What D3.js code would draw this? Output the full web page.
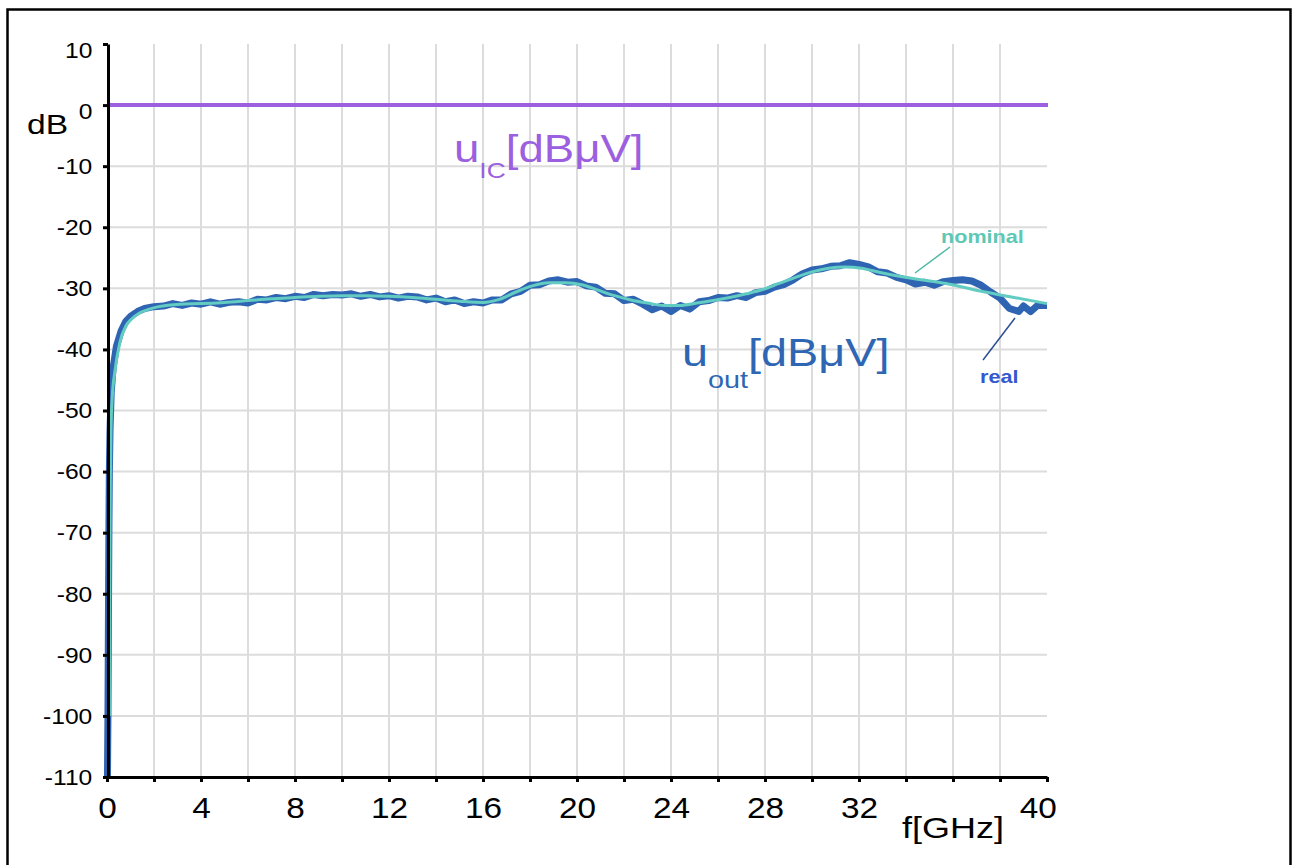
<!DOCTYPE html>
<html>
<head>
<meta charset="utf-8">
<script src="https://cdn.jsdelivr.net/npm/d3@7"></script>
<style>
  body { margin: 0; background: #fff; }
  text { font-family: Arial, "Liberation Sans", sans-serif; }
</style>
</head>
<body>
<div class="chart"></div>
<script>
// values
const yTicks = [10, 0, -10, -20, -30, -40, -50, -60, -70, -80, -90, -100, -110];
const xTicks = [0, 2, 4, 6, 8, 10, 12, 14, 16, 18, 20, 22, 24, 26, 28, 30, 32, 34, 36, 38, 40];
const xLabels = [0, 4, 8, 12, 16, 20, 24, 28, 32, 40];
const icLevel = 0;

const nominalFreq = [0.1, 0.12, 0.14, 0.17, 0.22, 0.34, 0.55, 0.8, 1.0, 1.4, 1.8, 2.2, 3.1,
  4, 5, 6, 7, 8, 9, 10, 11, 12, 13, 14, 15, 16, 16.7, 17.4, 18.1, 18.8, 19.5, 20.2, 20.9,
  21.6, 22.3, 23.0, 23.7, 24.4, 25.1, 25.8, 26.5, 27.2, 27.9, 28.6, 29.3, 30.0, 30.7, 31.4,
  32.1, 32.9, 34.3, 35.7, 37.1, 38.6, 40];
const nominalDb = [-100, -75, -62, -53, -48, -43.5, -38.8, -36.2, -35.2, -34.0, -33.4, -33.0, -32.6,
  -32.5, -32.3, -32.0, -31.7, -31.5, -31.3, -31.2, -31.2, -31.3, -31.5, -31.8, -32.1, -32.3, -31.8, -30.6, -29.6,
  -29.1, -29.1, -29.4, -30.3, -31.2, -31.9, -32.4, -32.8, -32.8, -32.4, -32.0, -31.5, -30.9, -30.2,
  -29.2, -28.2, -27.3, -26.7, -26.5, -26.7, -27.4, -28.4, -29.2, -30.4, -31.5, -32.5];

const realFreq = [0.02, 0.04, 0.06, 0.08, 0.1, 0.13, 0.18, 0.26, 0.4, 0.6, 0.8, 1.0, 1.3, 1.6, 2.0,
  2.4, 2.8, 3.2, 3.6, 4.0, 4.4, 4.8, 5.2, 5.6, 6.0, 6.4, 6.8, 7.2, 7.6, 8.0, 8.4, 8.8, 9.2, 9.6,
  10.0, 10.4, 10.8, 11.2, 11.6, 12.0, 12.4, 12.8, 13.2, 13.6, 14.0, 14.4, 14.8, 15.2, 15.6, 16.0,
  16.4, 16.8, 17.2, 17.6, 18.0, 18.4, 18.8, 19.2, 19.6, 20.0, 20.4, 20.8, 21.2, 21.6, 22.0, 22.4,
  22.8, 23.2, 23.6, 24.0, 24.4, 24.8, 25.2, 25.6, 26.0, 26.4, 26.8, 27.2, 27.6, 28.0, 28.4, 28.8,
  29.2, 29.6, 30.0, 30.4, 30.8, 31.2, 31.6, 32.0, 32.4, 32.8, 33.2, 33.6, 34.0, 34.4, 34.8, 35.2,
  35.6, 36.0, 36.4, 36.8, 37.2, 37.6, 38.0, 38.4, 38.8, 39.0, 39.3, 39.6, 40.0];
const realDb = [-110, -100, -85, -70, -60, -53, -47, -43, -39.5, -37, -35.4, -34.6, -33.8, -33.3, -33.0,
  -32.9, -32.5, -32.8, -32.4, -32.6, -32.2, -32.6, -32.3, -32.2, -32.4, -31.8, -31.9, -31.5, -31.7, -31.3,
  -31.5, -31.0, -31.2, -31.0, -31.1, -30.9, -31.3, -31.0, -31.4, -31.2, -31.6, -31.3, -31.4, -31.9, -31.6,
  -32.2, -31.9, -32.5, -32.2, -32.4, -31.9, -31.9, -30.9, -30.5, -29.5, -29.4, -28.8, -28.6, -29.0, -28.9,
  -29.6, -29.8, -30.8, -30.9, -32.0, -31.8, -32.6, -33.5, -32.9, -33.8, -32.8, -33.4, -32.2, -32.0, -31.5,
  -31.6, -31.2, -31.5, -30.7, -30.5, -29.8, -29.4, -28.6, -27.6, -27.0, -26.8, -26.4, -26.3, -25.8, -26.1,
  -26.5, -27.3, -27.5, -28.2, -28.6, -29.3, -29.0, -29.5, -28.9, -28.7, -28.6, -28.8, -29.5, -30.6, -31.6,
  -33.3, -33.8, -32.9, -33.8, -32.8, -32.8];

function drawChart(container) {
  const width = 1295, height = 865;
  const plot = {left: 107, right: 1047, top: 44, bottom: 777};
  const stretch = "scale(1.2,1)";   // the lettering in the picture is a bit wide

  const svg = d3.select(container)
    .append("svg")
    .attr("width", width)
    .attr("height", height);

  // frame
  svg.append("rect")
    .attr("x", 7.5).attr("y", 9.5)
    .attr("width", 1283).attr("height", 880)
    .attr("fill", "none")
    .attr("stroke", "#000")
    .attr("stroke-width", 2.5);

  const x = d3.scaleLinear().domain([0, 40]).range([plot.left, plot.right]);
  const y = d3.scaleLinear().domain([-110, 10]).range([plot.bottom, plot.top]);

  // grid
  const grid = svg.append("g").attr("stroke", "#dcdcdc").attr("stroke-width", 2);
  grid.selectAll(".vgrid")
    .data(xTicks.filter(d => d > 0 && d < 40))
    .join("line")
    .attr("x1", d => x(d)).attr("x2", d => x(d))
    .attr("y1", y(10)).attr("y2", y(-110));
  grid.selectAll(".hgrid")
    .data(yTicks.filter(d => d < 10 && d > -110))
    .join("line")
    .attr("x1", x(0)).attr("x2", x(40))
    .attr("y1", d => y(d)).attr("y2", d => y(d));

  // u_IC level
  svg.append("line")
    .attr("x1", x(0)).attr("x2", x(40) + 1)
    .attr("y1", y(icLevel)).attr("y2", y(icLevel))
    .attr("stroke", "#9b5fe0")
    .attr("stroke-width", 4);

  const realLine = d3.line()
    .x((d, i) => x(realFreq[i]))
    .y(d => y(d));
  svg.append("path")
    .attr("d", realLine(realDb))
    .attr("fill", "none")
    .attr("stroke", "#2f64b3")
    .attr("stroke-width", 7)
    .attr("stroke-linejoin", "round");

  const nominalLine = d3.line()
    .x((d, i) => x(nominalFreq[i]))
    .y(d => y(d))
    .curve(d3.curveMonotoneX);
  svg.append("path")
    .attr("d", nominalLine(nominalDb))
    .attr("fill", "none")
    .attr("stroke", "#63ccc2")
    .attr("stroke-width", 3);

  // axes
  const yAxis = svg.append("g")
    .attr("transform", `translate(${plot.left + 1},0)`)
    .call(d3.axisLeft(y).tickValues(yTicks).tickSize(5).tickSizeOuter(0).tickPadding(9)
      .tickFormat(d => String(d)));
  yAxis.selectAll("text")
    .attr("font-size", 22)
    .attr("fill", "#000")
    .attr("dy", d => d >= 0 ? "0.6em" : "0.33em")
    .attr("transform", "scale(1.12,1)");

  const xAxis = svg.append("g")
    .attr("transform", `translate(0,${plot.bottom})`)
    .call(d3.axisBottom(x).tickValues(xTicks).tickSize(5).tickSizeOuter(0).tickPadding(15)
      .tickFormat(d => xLabels.includes(d) ? String(d) : ""));
  xAxis.selectAll("text")
    .attr("font-size", 29)
    .attr("fill", "#000")
    .attr("x", d => d === 40 ? -8 : 0)
    .attr("transform", "scale(1.15,1)");

  svg.selectAll(".domain, .tick line")
    .attr("stroke", "#000")
    .attr("stroke-width", 3);

  // axis titles
  svg.append("text")
    .attr("transform", `translate(27,134) ${stretch}`)
    .attr("font-size", 28)
    .text("dB");
  svg.append("text")
    .attr("transform", `translate(902,838) ${stretch}`)
    .attr("font-size", 30)
    .text("f[GHz]");

  // series labels
  const icLabel = svg.append("text")
    .attr("transform", `translate(454,162) ${stretch}`)
    .attr("fill", "#9b5fe0")
    .attr("font-size", 38);
  icLabel.append("tspan").text("u");
  icLabel.append("tspan").attr("font-size", 22).attr("dy", 16).text("IC");
  icLabel.append("tspan").attr("dy", -16).text("[dBμV]");

  const outLabel = svg.append("text")
    .attr("transform", `translate(682,366) ${stretch}`)
    .attr("fill", "#2f66b3")
    .attr("font-size", 39);
  outLabel.append("tspan").text("u");
  outLabel.append("tspan").attr("font-size", 24).attr("dy", 22).text("out");
  outLabel.append("tspan").attr("dy", -22).text("[dBμV]");

  svg.append("line")
    .attr("x1", 915).attr("y1", 273).attr("x2", 950).attr("y2", 247)
    .attr("stroke", "#4fb9a6").attr("stroke-width", 1.5);
  svg.append("text")
    .attr("transform", `translate(941,243) ${stretch}`)
    .attr("fill", "#5ec8b5")
    .attr("font-size", 18)
    .attr("font-weight", "bold")
    .text("nominal");

  svg.append("line")
    .attr("x1", 983).attr("y1", 360).attr("x2", 1015).attr("y2", 318)
    .attr("stroke", "#2c4f95").attr("stroke-width", 1.5);
  svg.append("text")
    .attr("transform", `translate(980,383) ${stretch}`)
    .attr("fill", "#3358cf")
    .attr("font-size", 18)
    .attr("font-weight", "bold")
    .text("real");
}

drawChart(".chart");
</script>
</body>
</html>
